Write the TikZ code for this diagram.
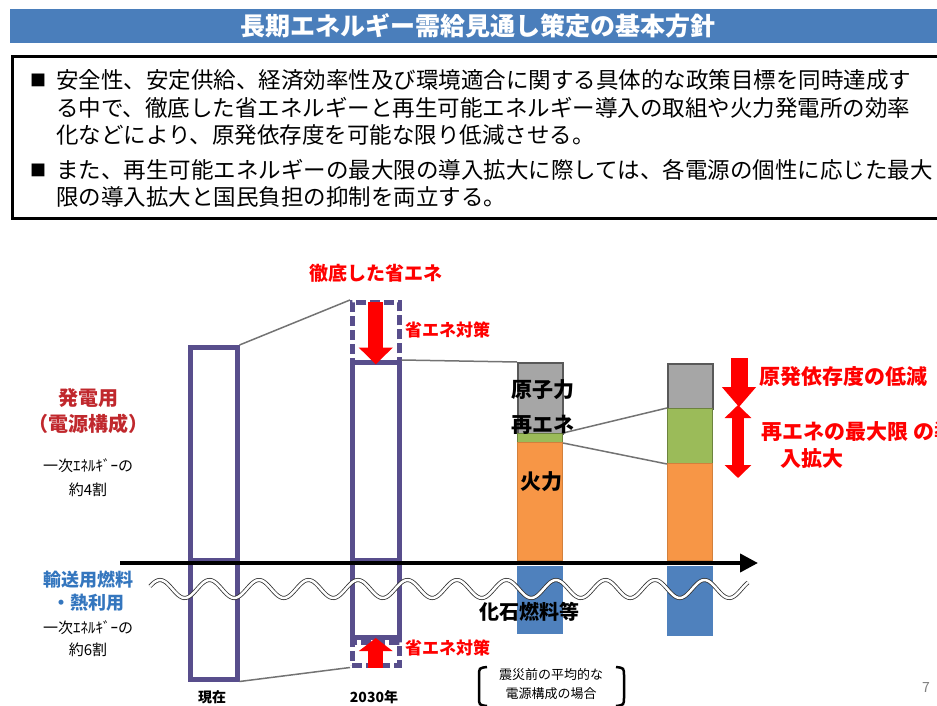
\documentclass[tikz,border=0pt]{standalone}
\usepackage{fontspec}
\setmainfont{Noto Sans CJK JP}
\usetikzlibrary{arrows.meta}

\definecolor{titleblue}{RGB}{74,126,187}
\definecolor{barpurple}{RGB}{88,78,140}
\definecolor{nuclgray}{RGB}{166,166,166}
\definecolor{renewgreen}{RGB}{155,187,89}
\definecolor{thermorange}{RGB}{247,150,70}
\definecolor{fossilblue}{RGB}{79,129,189}
\definecolor{elecred}{RGB}{192,40,45}
\definecolor{fuelblue}{RGB}{52,118,190}
\newcommand{\fsz}[1]{\fontsize{#1}{#1}\selectfont}

\begin{document}
\begin{tikzpicture}[x=1pt, y=-1pt,
    column/.style={draw=barpurple, line width=4.5pt, minimum width=47pt, inner sep=0pt, anchor=north west},
    saved/.style={column, dash pattern=on 10pt off 4pt},
    seg/.style={minimum width=45pt, inner sep=0pt, anchor=north west, line width=1pt},
    bigarrow/.style={red, line width=15pt, -{Triangle[length=17pt, width=33pt]}},
    link/.style={black!55, line width=1.5pt},
    barlabel/.style={font=\fsz{21}\bfseries},
    redlabel/.style={red, font=\fsz{17}\bfseries, anchor=west, inner sep=0pt},
    bodytext/.style={anchor=west, font=\fsz{22.5}, inner sep=0pt},
    sidelabel/.style={font=\fsz{20}\bfseries},
    smalllabel/.style={font=\fsz{15}}
]
    \useasboundingbox (0,0) rectangle (937,706);

    % Title
    \node[fill=titleblue, minimum width=935pt, minimum height=34pt, inner sep=0pt, anchor=north west] (titlebar) at (10,9) {};
    \node[text=white, font=\fsz{25}\bfseries] (title) at (478,26) {長期エネルギー需給見通し策定の基本方針};

    % Policy box
    \draw[line width=3pt] (960,57) -- (12,57) -- (12,218) -- (960,218);
    \node[font=\fsz{16}] (bul1) at (38,80) {■};
    \node[font=\fsz{16}] (bul2) at (38,170) {■};
    \node[bodytext] (line1) at (56,80) {安全性、安定供給、経済効率性及び環境適合に関する具体的な政策目標を同時達成す};
    \node[bodytext] (line2) at (56,108) {る中で、徹底した省エネルギーと再生可能エネルギー導入の取組や火力発電所の効率};
    \node[bodytext] (line3) at (56,135) {化などにより、原発依存度を可能な限り低減させる。};
    \node[bodytext] (line4) at (56,170) {また、再生可能エネルギーの最大限の導入拡大に際しては、各電源の個性に応じた最大};
    \node[bodytext] (line5) at (56,197) {限の導入拡大と国民負担の抑制を両立する。};

    % Left labels
    \node[sidelabel, text=elecred] (elec) at (88,398) {発電用};
    \node[sidelabel, text=elecred] (elec2) at (88,424) {（電源構成）};
    \node[smalllabel] (share1) at (88,466) {一次ｴﾈﾙｷﾞｰの};
    \node[smalllabel] (share1b) at (88,490) {約4割};
    \node[sidelabel, font=\fsz{18}\bfseries, text=fuelblue] (fuel) at (88,580) {輸送用燃料};
    \node[sidelabel, font=\fsz{18}\bfseries, text=fuelblue] (fuel2) at (88,603) {・熱利用};
    \node[smalllabel] (share2) at (88,628) {一次ｴﾈﾙｷﾞｰの};
    \node[smalllabel] (share2b) at (88,650) {約6割};

    % Now
    \node[column, minimum height=213pt] (nowup) at (188,345) {};
    \node[column, minimum height=119pt] (nowlow) at (188,558) {};

    % 2030
    \node[saved, minimum height=60pt] (cutup) at (350,300) {};
    \node[column, minimum height=198pt] (goalup) at (350,360) {};
    \node[column, minimum height=77pt] (goallow) at (350,558) {};
    \node[saved, minimum height=23pt] (cutlow) at (350,640) {};

    % Mix before the disaster
    \node[seg, fill=nuclgray, draw=black!65, line width=2pt, minimum height=71pt] (oldnuc) at (517,362) {};
    \node[seg, fill=renewgreen, draw=renewgreen!70!black, minimum height=9pt] (oldren) at (517,433) {};
    \node[seg, fill=thermorange, draw=thermorange!85!black, minimum height=118pt] (oldthm) at (517,442) {};
    \node[seg, fill=fossilblue, draw=fossilblue, minimum height=67pt] (oldfos) at (517,566) {};

    % Mix in 2030
    \node[seg, fill=nuclgray, draw=black!65, line width=2pt, minimum height=45pt] (newnuc) at (667,363) {};
    \node[seg, fill=renewgreen, draw=renewgreen!70!black, minimum height=55pt] (newren) at (667,408) {};
    \node[seg, fill=thermorange, draw=thermorange!85!black, minimum height=97pt] (newthm) at (667,463) {};
    \node[seg, fill=fossilblue, draw=fossilblue, minimum height=69pt] (newfos) at (667,566) {};

    % Links
    \draw[link] (nowup.north east) -- (cutup.north west);
    \draw[link] (nowlow.south east) -- (cutlow.south west);
    \draw[link] (goalup.north east) -- (oldnuc.north west);
    \draw[link] (oldren.north east) -- (newren.north west);
    \draw[link] (oldren.south east) -- (newren.south west);

    % Axis and break
    \coordinate (axstart) at (120,563);
    \coordinate (axend) at (758,563);
    \draw[line width=4pt, -{Triangle[length=18pt, width=18pt]}] (axstart) -- (axend);
    \draw[black!80, line width=0.8pt, double=white, double distance=2.5pt]
        plot[domain=150:748, samples=300, smooth] (\x, {589 - 9*cos(7.2727*(\x-160))});

    % Arrows
    \draw[bigarrow] ([yshift=-2pt]cutup.north) -- (cutup.south);
    \draw[bigarrow, -{Triangle[length=13pt, width=33pt]}] (cutlow.south) -- ([yshift=2pt]cutlow.north);
    \draw[red, line width=17pt, -{Triangle[length=20pt, width=33pt]}] ([xshift=25pt, yshift=5pt]newnuc.north east) -- ([xshift=25pt, yshift=3pt]newnuc.south east);
    \draw[red, line width=12pt, {Triangle[length=13pt, width=26pt]}-{Triangle[length=13pt, width=26pt]}] ([xshift=25pt, yshift=3pt]newren.north east) -- ([xshift=25pt, yshift=-14pt]newren.south east);

    % Red labels
    \node[redlabel, font=\fsz{19}\bfseries, anchor=center] (deepsave) at (376,273) {徹底した省エネ};
    \node[redlabel] (cutlabelup) at (405,330) {省エネ対策};
    \node[redlabel] (cutlabellow) at (405,648) {省エネ対策};
    \node[redlabel, font=\fsz{21}\bfseries] (nucdown) at (759,377) {原発依存度の低減};
    \node[redlabel, font=\fsz{21}\bfseries] (renup) at (761,432) {再エネの最大限 の導};
    \node[redlabel, font=\fsz{21}\bfseries] (renup2) at (780,458) {入拡大};

    % Bar labels
    \node[barlabel] (nuclabel) at (543,390) {原子力};
    \node[barlabel] (renlabel) at (543,425) {再エネ};
    \node[barlabel] (thmlabel) at (541,482) {火力};
    \node[barlabel, font=\fsz{20}\bfseries] (fossil) at (529,612) {化石燃料等};

    % Bottom labels
    \node[font=\fsz{14}\bfseries] (nowlabel) at (212,697) {現在};
    \node[font=\fsz{14}\bfseries] (goallabel) at (374,697) {2030年};
    \node[font=\fsz{13}] (case1) at (551,675) {震災前の平均的な};
    \node[font=\fsz{13}] (case2) at (551,694) {電源構成の場合};
    \draw[line width=2.5pt] (487,667) .. controls (479,668) .. (479,676) -- (479,697) .. controls (479,705) .. (487,706);
    \draw[line width=2.5pt] (616,667) .. controls (624,668) .. (624,676) -- (624,697) .. controls (624,705) .. (616,706);
    \node[text=black!50, font=\fsz{14}] (pagenum) at (926,688) {7};
\end{tikzpicture}
\end{document}
